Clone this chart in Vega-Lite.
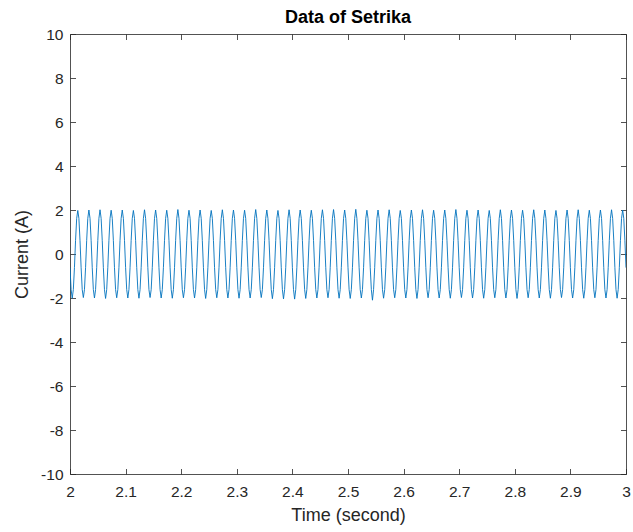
{
"$schema":"https://vega.github.io/schema/vega-lite/v6.json",
"autosize":"none",
"width":556,"height":440,
"padding":{"left":70,"top":34,"right":7,"bottom":58},
"background":"white",
"title":{"text":"Data of Setrika","fontSize":18,"fontWeight":"bold","font":"Liberation Sans","color":"#000000","offset":0,"anchor":"middle"},
"data":{"values":[
{"t":2.000,"i":-0.62},{"t":2.002,"i":-1.62},{"t":2.004,"i":-2.01},{"t":2.006,"i":-1.62},{"t":2.008,"i":-0.62},{"t":2.010,"i":0.62},{"t":2.012,"i":1.62},{"t":2.014,"i":1.98},{"t":2.016,"i":1.62},{"t":2.018,"i":0.62},
{"t":2.020,"i":-0.62},{"t":2.022,"i":-1.62},{"t":2.024,"i":-1.98},{"t":2.026,"i":-1.62},{"t":2.028,"i":-0.62},{"t":2.030,"i":0.62},{"t":2.032,"i":1.62},{"t":2.034,"i":2.00},{"t":2.036,"i":1.62},{"t":2.038,"i":0.62},
{"t":2.040,"i":-0.62},{"t":2.042,"i":-1.62},{"t":2.044,"i":-2.00},{"t":2.046,"i":-1.62},{"t":2.048,"i":-0.62},{"t":2.050,"i":0.62},{"t":2.052,"i":1.62},{"t":2.054,"i":2.01},{"t":2.056,"i":1.62},{"t":2.058,"i":0.62},
{"t":2.060,"i":-0.62},{"t":2.062,"i":-1.62},{"t":2.064,"i":-2.02},{"t":2.066,"i":-1.62},{"t":2.068,"i":-0.62},{"t":2.070,"i":0.62},{"t":2.072,"i":1.62},{"t":2.074,"i":1.99},{"t":2.076,"i":1.62},{"t":2.078,"i":0.62},
{"t":2.080,"i":-0.62},{"t":2.082,"i":-1.62},{"t":2.084,"i":-1.99},{"t":2.086,"i":-1.62},{"t":2.088,"i":-0.62},{"t":2.090,"i":0.62},{"t":2.092,"i":1.62},{"t":2.094,"i":2.00},{"t":2.096,"i":1.62},{"t":2.098,"i":0.62},
{"t":2.100,"i":-0.62},{"t":2.102,"i":-1.62},{"t":2.104,"i":-2.00},{"t":2.106,"i":-1.62},{"t":2.108,"i":-0.62},{"t":2.110,"i":0.62},{"t":2.112,"i":1.62},{"t":2.114,"i":1.98},{"t":2.116,"i":1.62},{"t":2.118,"i":0.62},
{"t":2.120,"i":-0.62},{"t":2.122,"i":-1.62},{"t":2.124,"i":-2.01},{"t":2.126,"i":-1.62},{"t":2.128,"i":-0.62},{"t":2.130,"i":0.62},{"t":2.132,"i":1.62},{"t":2.134,"i":2.01},{"t":2.136,"i":1.62},{"t":2.138,"i":0.62},
{"t":2.140,"i":-0.62},{"t":2.142,"i":-1.62},{"t":2.144,"i":-1.98},{"t":2.146,"i":-1.62},{"t":2.148,"i":-0.62},{"t":2.150,"i":0.62},{"t":2.152,"i":1.62},{"t":2.154,"i":2.00},{"t":2.156,"i":1.62},{"t":2.158,"i":0.62},
{"t":2.160,"i":-0.62},{"t":2.162,"i":-1.62},{"t":2.164,"i":-2.00},{"t":2.166,"i":-1.62},{"t":2.168,"i":-0.62},{"t":2.170,"i":0.62},{"t":2.172,"i":1.62},{"t":2.174,"i":1.99},{"t":2.176,"i":1.62},{"t":2.178,"i":0.62},
{"t":2.180,"i":-0.62},{"t":2.182,"i":-1.62},{"t":2.184,"i":-2.01},{"t":2.186,"i":-1.62},{"t":2.188,"i":-0.62},{"t":2.190,"i":0.62},{"t":2.192,"i":1.62},{"t":2.194,"i":2.02},{"t":2.196,"i":1.62},{"t":2.198,"i":0.62},
{"t":2.200,"i":-0.62},{"t":2.202,"i":-1.62},{"t":2.204,"i":-1.99},{"t":2.206,"i":-1.62},{"t":2.208,"i":-0.62},{"t":2.210,"i":0.62},{"t":2.212,"i":1.62},{"t":2.214,"i":1.99},{"t":2.216,"i":1.62},{"t":2.218,"i":0.62},
{"t":2.220,"i":-0.62},{"t":2.222,"i":-1.62},{"t":2.224,"i":-2.00},{"t":2.226,"i":-1.62},{"t":2.228,"i":-0.62},{"t":2.230,"i":0.62},{"t":2.232,"i":1.62},{"t":2.234,"i":2.00},{"t":2.236,"i":1.62},{"t":2.238,"i":0.62},
{"t":2.240,"i":-0.62},{"t":2.242,"i":-1.62},{"t":2.244,"i":-2.02},{"t":2.246,"i":-1.62},{"t":2.248,"i":-0.62},{"t":2.250,"i":0.62},{"t":2.252,"i":1.62},{"t":2.254,"i":1.98},{"t":2.256,"i":1.62},{"t":2.258,"i":0.62},
{"t":2.260,"i":-0.62},{"t":2.262,"i":-1.62},{"t":2.264,"i":-1.99},{"t":2.266,"i":-1.62},{"t":2.268,"i":-0.62},{"t":2.270,"i":0.62},{"t":2.272,"i":1.62},{"t":2.274,"i":2.01},{"t":2.276,"i":1.62},{"t":2.278,"i":0.62},
{"t":2.280,"i":-0.62},{"t":2.282,"i":-1.62},{"t":2.284,"i":-2.00},{"t":2.286,"i":-1.62},{"t":2.288,"i":-0.62},{"t":2.290,"i":0.62},{"t":2.292,"i":1.62},{"t":2.294,"i":2.00},{"t":2.296,"i":1.62},{"t":2.298,"i":0.62},
{"t":2.300,"i":-0.62},{"t":2.302,"i":-1.62},{"t":2.304,"i":-2.01},{"t":2.306,"i":-1.62},{"t":2.308,"i":-0.62},{"t":2.310,"i":0.62},{"t":2.312,"i":1.62},{"t":2.314,"i":1.99},{"t":2.316,"i":1.62},{"t":2.318,"i":0.62},
{"t":2.320,"i":-0.62},{"t":2.322,"i":-1.62},{"t":2.324,"i":-2.00},{"t":2.326,"i":-1.62},{"t":2.328,"i":-0.62},{"t":2.330,"i":0.62},{"t":2.332,"i":1.62},{"t":2.334,"i":2.02},{"t":2.336,"i":1.62},{"t":2.338,"i":0.62},
{"t":2.340,"i":-0.62},{"t":2.342,"i":-1.62},{"t":2.344,"i":-1.98},{"t":2.346,"i":-1.62},{"t":2.348,"i":-0.62},{"t":2.350,"i":0.62},{"t":2.352,"i":1.62},{"t":2.354,"i":2.00},{"t":2.356,"i":1.62},{"t":2.358,"i":0.62},
{"t":2.360,"i":-0.62},{"t":2.362,"i":-1.62},{"t":2.364,"i":-2.03},{"t":2.366,"i":-1.62},{"t":2.368,"i":-0.62},{"t":2.370,"i":0.62},{"t":2.372,"i":1.62},{"t":2.374,"i":1.98},{"t":2.376,"i":1.62},{"t":2.378,"i":0.62},
{"t":2.380,"i":-0.62},{"t":2.382,"i":-1.62},{"t":2.384,"i":-2.04},{"t":2.386,"i":-1.62},{"t":2.388,"i":-0.62},{"t":2.390,"i":0.62},{"t":2.392,"i":1.62},{"t":2.394,"i":2.01},{"t":2.396,"i":1.62},{"t":2.398,"i":0.62},
{"t":2.400,"i":-0.62},{"t":2.402,"i":-1.62},{"t":2.404,"i":-2.05},{"t":2.406,"i":-1.62},{"t":2.408,"i":-0.62},{"t":2.410,"i":0.62},{"t":2.412,"i":1.62},{"t":2.414,"i":2.00},{"t":2.416,"i":1.62},{"t":2.418,"i":0.62},
{"t":2.420,"i":-0.62},{"t":2.422,"i":-1.62},{"t":2.424,"i":-2.02},{"t":2.426,"i":-1.62},{"t":2.428,"i":-0.62},{"t":2.430,"i":0.62},{"t":2.432,"i":1.62},{"t":2.434,"i":1.99},{"t":2.436,"i":1.62},{"t":2.438,"i":0.62},
{"t":2.440,"i":-0.62},{"t":2.442,"i":-1.62},{"t":2.444,"i":-2.00},{"t":2.446,"i":-1.62},{"t":2.448,"i":-0.62},{"t":2.450,"i":0.62},{"t":2.452,"i":1.62},{"t":2.454,"i":2.01},{"t":2.456,"i":1.62},{"t":2.458,"i":0.62},
{"t":2.460,"i":-0.62},{"t":2.462,"i":-1.62},{"t":2.464,"i":-1.99},{"t":2.466,"i":-1.62},{"t":2.468,"i":-0.62},{"t":2.470,"i":0.62},{"t":2.472,"i":1.62},{"t":2.474,"i":2.02},{"t":2.476,"i":1.62},{"t":2.478,"i":0.62},
{"t":2.480,"i":-0.62},{"t":2.482,"i":-1.62},{"t":2.484,"i":-2.01},{"t":2.486,"i":-1.62},{"t":2.488,"i":-0.62},{"t":2.490,"i":0.62},{"t":2.492,"i":1.62},{"t":2.494,"i":2.00},{"t":2.496,"i":1.62},{"t":2.498,"i":0.62},
{"t":2.500,"i":-0.62},{"t":2.502,"i":-1.62},{"t":2.504,"i":-2.02},{"t":2.506,"i":-1.62},{"t":2.508,"i":-0.62},{"t":2.510,"i":0.62},{"t":2.512,"i":1.62},{"t":2.514,"i":2.03},{"t":2.516,"i":1.62},{"t":2.518,"i":0.62},
{"t":2.520,"i":-0.62},{"t":2.522,"i":-1.62},{"t":2.524,"i":-2.00},{"t":2.526,"i":-1.62},{"t":2.528,"i":-0.62},{"t":2.530,"i":0.62},{"t":2.532,"i":1.62},{"t":2.534,"i":1.99},{"t":2.536,"i":1.62},{"t":2.538,"i":0.62},
{"t":2.540,"i":-0.62},{"t":2.542,"i":-1.62},{"t":2.544,"i":-2.10},{"t":2.546,"i":-1.62},{"t":2.548,"i":-0.62},{"t":2.550,"i":0.62},{"t":2.552,"i":1.62},{"t":2.554,"i":2.00},{"t":2.556,"i":1.62},{"t":2.558,"i":0.62},
{"t":2.560,"i":-0.62},{"t":2.562,"i":-1.62},{"t":2.564,"i":-2.01},{"t":2.566,"i":-1.62},{"t":2.568,"i":-0.62},{"t":2.570,"i":0.62},{"t":2.572,"i":1.62},{"t":2.574,"i":2.01},{"t":2.576,"i":1.62},{"t":2.578,"i":0.62},
{"t":2.580,"i":-0.62},{"t":2.582,"i":-1.62},{"t":2.584,"i":-1.99},{"t":2.586,"i":-1.62},{"t":2.588,"i":-0.62},{"t":2.590,"i":0.62},{"t":2.592,"i":1.62},{"t":2.594,"i":1.98},{"t":2.596,"i":1.62},{"t":2.598,"i":0.62},
{"t":2.600,"i":-0.62},{"t":2.602,"i":-1.62},{"t":2.604,"i":-2.00},{"t":2.606,"i":-1.62},{"t":2.608,"i":-0.62},{"t":2.610,"i":0.62},{"t":2.612,"i":1.62},{"t":2.614,"i":2.00},{"t":2.616,"i":1.62},{"t":2.618,"i":0.62},
{"t":2.620,"i":-0.62},{"t":2.622,"i":-1.62},{"t":2.624,"i":-2.02},{"t":2.626,"i":-1.62},{"t":2.628,"i":-0.62},{"t":2.630,"i":0.62},{"t":2.632,"i":1.62},{"t":2.634,"i":2.01},{"t":2.636,"i":1.62},{"t":2.638,"i":0.62},
{"t":2.640,"i":-0.62},{"t":2.642,"i":-1.62},{"t":2.644,"i":-1.99},{"t":2.646,"i":-1.62},{"t":2.648,"i":-0.62},{"t":2.650,"i":0.62},{"t":2.652,"i":1.62},{"t":2.654,"i":1.99},{"t":2.656,"i":1.62},{"t":2.658,"i":0.62},
{"t":2.660,"i":-0.62},{"t":2.662,"i":-1.62},{"t":2.664,"i":-2.00},{"t":2.666,"i":-1.62},{"t":2.668,"i":-0.62},{"t":2.670,"i":0.62},{"t":2.672,"i":1.62},{"t":2.674,"i":2.00},{"t":2.676,"i":1.62},{"t":2.678,"i":0.62},
{"t":2.680,"i":-0.62},{"t":2.682,"i":-1.62},{"t":2.684,"i":-2.01},{"t":2.686,"i":-1.62},{"t":2.688,"i":-0.62},{"t":2.690,"i":0.62},{"t":2.692,"i":1.62},{"t":2.694,"i":2.02},{"t":2.696,"i":1.62},{"t":2.698,"i":0.62},
{"t":2.700,"i":-0.62},{"t":2.702,"i":-1.62},{"t":2.704,"i":-1.98},{"t":2.706,"i":-1.62},{"t":2.708,"i":-0.62},{"t":2.710,"i":0.62},{"t":2.712,"i":1.62},{"t":2.714,"i":1.99},{"t":2.716,"i":1.62},{"t":2.718,"i":0.62},
{"t":2.720,"i":-0.62},{"t":2.722,"i":-1.62},{"t":2.724,"i":-2.00},{"t":2.726,"i":-1.62},{"t":2.728,"i":-0.62},{"t":2.730,"i":0.62},{"t":2.732,"i":1.62},{"t":2.734,"i":2.00},{"t":2.736,"i":1.62},{"t":2.738,"i":0.62},
{"t":2.740,"i":-0.62},{"t":2.742,"i":-1.62},{"t":2.744,"i":-2.01},{"t":2.746,"i":-1.62},{"t":2.748,"i":-0.62},{"t":2.750,"i":0.62},{"t":2.752,"i":1.62},{"t":2.754,"i":1.98},{"t":2.756,"i":1.62},{"t":2.758,"i":0.62},
{"t":2.760,"i":-0.62},{"t":2.762,"i":-1.62},{"t":2.764,"i":-1.99},{"t":2.766,"i":-1.62},{"t":2.768,"i":-0.62},{"t":2.770,"i":0.62},{"t":2.772,"i":1.62},{"t":2.774,"i":2.01},{"t":2.776,"i":1.62},{"t":2.778,"i":0.62},
{"t":2.780,"i":-0.62},{"t":2.782,"i":-1.62},{"t":2.784,"i":-2.00},{"t":2.786,"i":-1.62},{"t":2.788,"i":-0.62},{"t":2.790,"i":0.62},{"t":2.792,"i":1.62},{"t":2.794,"i":2.00},{"t":2.796,"i":1.62},{"t":2.798,"i":0.62},
{"t":2.800,"i":-0.62},{"t":2.802,"i":-1.62},{"t":2.804,"i":-2.02},{"t":2.806,"i":-1.62},{"t":2.808,"i":-0.62},{"t":2.810,"i":0.62},{"t":2.812,"i":1.62},{"t":2.814,"i":1.99},{"t":2.816,"i":1.62},{"t":2.818,"i":0.62},
{"t":2.820,"i":-0.62},{"t":2.822,"i":-1.62},{"t":2.824,"i":-1.99},{"t":2.826,"i":-1.62},{"t":2.828,"i":-0.62},{"t":2.830,"i":0.62},{"t":2.832,"i":1.62},{"t":2.834,"i":2.01},{"t":2.836,"i":1.62},{"t":2.838,"i":0.62},
{"t":2.840,"i":-0.62},{"t":2.842,"i":-1.62},{"t":2.844,"i":-2.00},{"t":2.846,"i":-1.62},{"t":2.848,"i":-0.62},{"t":2.850,"i":0.62},{"t":2.852,"i":1.62},{"t":2.854,"i":2.00},{"t":2.856,"i":1.62},{"t":2.858,"i":0.62},
{"t":2.860,"i":-0.62},{"t":2.862,"i":-1.62},{"t":2.864,"i":-2.01},{"t":2.866,"i":-1.62},{"t":2.868,"i":-0.62},{"t":2.870,"i":0.62},{"t":2.872,"i":1.62},{"t":2.874,"i":1.98},{"t":2.876,"i":1.62},{"t":2.878,"i":0.62},
{"t":2.880,"i":-0.62},{"t":2.882,"i":-1.62},{"t":2.884,"i":-1.98},{"t":2.886,"i":-1.62},{"t":2.888,"i":-0.62},{"t":2.890,"i":0.62},{"t":2.892,"i":1.62},{"t":2.894,"i":2.00},{"t":2.896,"i":1.62},{"t":2.898,"i":0.62},
{"t":2.900,"i":-0.62},{"t":2.902,"i":-1.62},{"t":2.904,"i":-2.00},{"t":2.906,"i":-1.62},{"t":2.908,"i":-0.62},{"t":2.910,"i":0.62},{"t":2.912,"i":1.62},{"t":2.914,"i":2.01},{"t":2.916,"i":1.62},{"t":2.918,"i":0.62},
{"t":2.920,"i":-0.62},{"t":2.922,"i":-1.62},{"t":2.924,"i":-2.01},{"t":2.926,"i":-1.62},{"t":2.928,"i":-0.62},{"t":2.930,"i":0.62},{"t":2.932,"i":1.62},{"t":2.934,"i":1.99},{"t":2.936,"i":1.62},{"t":2.938,"i":0.62},
{"t":2.940,"i":-0.62},{"t":2.942,"i":-1.62},{"t":2.944,"i":-1.99},{"t":2.946,"i":-1.62},{"t":2.948,"i":-0.62},{"t":2.950,"i":0.62},{"t":2.952,"i":1.62},{"t":2.954,"i":2.00},{"t":2.956,"i":1.62},{"t":2.958,"i":0.62},
{"t":2.960,"i":-0.62},{"t":2.962,"i":-1.62},{"t":2.964,"i":-2.00},{"t":2.966,"i":-1.62},{"t":2.968,"i":-0.62},{"t":2.970,"i":0.62},{"t":2.972,"i":1.62},{"t":2.974,"i":2.01},{"t":2.976,"i":1.62},{"t":2.978,"i":0.62},
{"t":2.980,"i":-0.62},{"t":2.982,"i":-1.62},{"t":2.984,"i":-2.01},{"t":2.986,"i":-1.62},{"t":2.988,"i":-0.62},{"t":2.990,"i":0.62},{"t":2.992,"i":1.62},{"t":2.994,"i":2.00},{"t":2.996,"i":1.62},{"t":2.998,"i":0.62},
{"t":3.000,"i":-0.62}
]},
"layer":[
{"mark":{"type":"line","color":"#0072BD","strokeWidth":0.9,"clip":true},
 "encoding":{
  "x":{"field":"t","type":"quantitative","scale":{"domain":[2,3],"nice":false,"zero":false},
       "axis":{"orient":"bottom","values":[2,2.1,2.2,2.3,2.4,2.5,2.6,2.7,2.8,2.9,3],"labelExpr":"''+datum.value","title":"Time (second)","labelPadding":16,"titlePadding":6,"labelFlush":false}},
  "y":{"field":"i","type":"quantitative","scale":{"domain":[-10,10],"nice":false,"zero":false},
       "axis":{"orient":"left","values":[-10,-8,-6,-4,-2,0,2,4,6,8,10],"labelExpr":"''+datum.value","title":"Current (A)","labelPadding":12.5,"titlePadding":9,"labelFlush":false}}
 }},
{"mark":{"type":"line","strokeOpacity":0},
 "encoding":{
  "x":{"field":"t","type":"quantitative","axis":{"orient":"top","values":[2,2.1,2.2,2.3,2.4,2.5,2.6,2.7,2.8,2.9,3],"labels":false,"title":null}},
  "y":{"field":"i","type":"quantitative","axis":{"orient":"right","values":[-10,-8,-6,-4,-2,0,2,4,6,8,10],"labels":false,"title":null}}
 }}
],
"resolve":{"axis":{"x":"independent","y":"independent"}},
"config":{
 "view":{"stroke":null},
 "axis":{"domainColor":"#262626","tickColor":"#262626","labelColor":"#262626","titleColor":"#262626","labelFont":"Liberation Sans","titleFont":"Liberation Sans","labelFontSize":15.5,"titleFontSize":18,"titleFontWeight":"normal","tickSize":-5.5,"grid":false,"domainWidth":0.8,"tickWidth":0.8}
}
}
